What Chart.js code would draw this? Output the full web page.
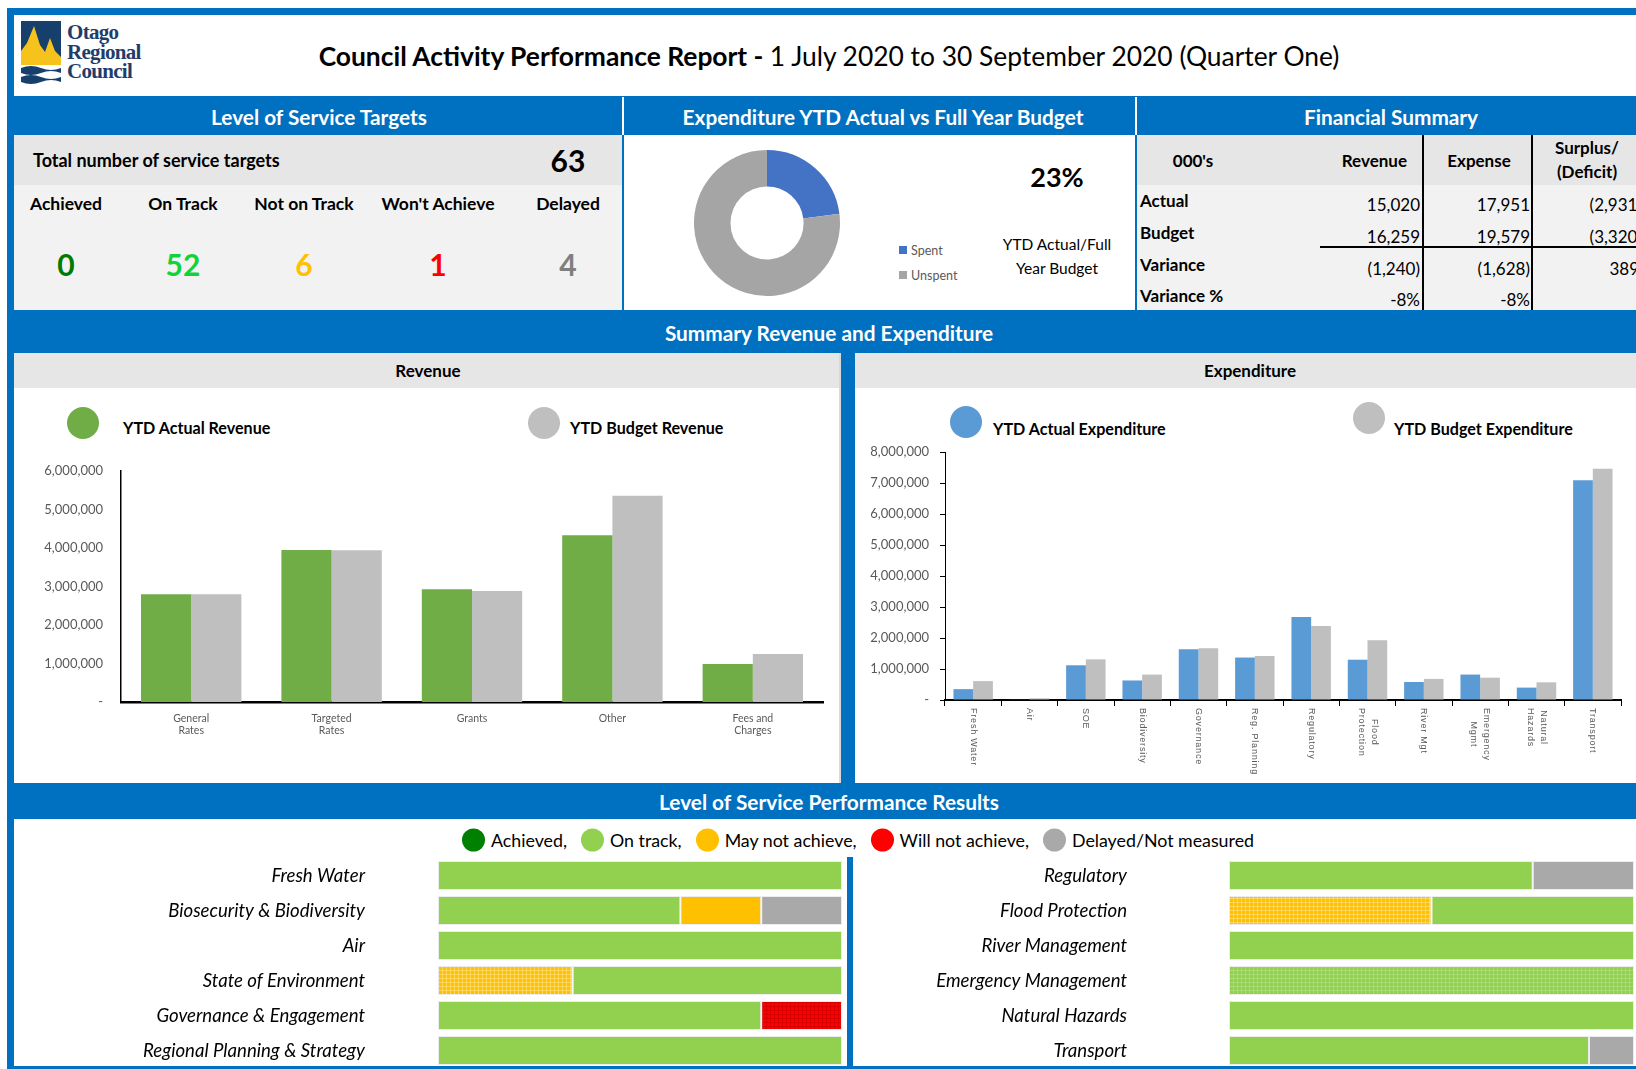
<!DOCTYPE html>
<html>
<head>
<meta charset="utf-8">
<script src="https://cdn.jsdelivr.net/npm/chart.js@4.4.0/dist/chart.umd.min.js"></script>
<style>
  body { margin: 0; width: 1636px; height: 1069px; overflow: hidden; position: relative; background: #fff; font-family: Lato, "Open Sans", sans-serif; color: #000; }
  .box { position: absolute; }
  .t { position: absolute; white-space: nowrap; }
  .c { transform: translate(-50%, -50%); text-align: center; }
  .l { transform: translateY(-50%); }
  .r { transform: translate(-100%, -50%); text-align: right; }
  .band { color: #fff; font-weight: 700; font-size: 20.8px; }
  canvas { position: absolute; }
  .dot { display: inline-block; border-radius: 50%; vertical-align: middle; }
</style>
</head>
<body>
<!-- frame and panels -->
<div class="box" style="left:7px;top:8px;width:1629px;height:1061px;background:#0070C0"></div>
<div class="box" style="left:14px;top:15px;width:1622px;height:81px;background:#fff"></div>
<div class="box" style="left:622px;top:97px;width:2px;height:38px;background:#fff"></div>
<div class="box" style="left:1135px;top:97px;width:2px;height:38px;background:#fff"></div>
<div class="box" style="left:14px;top:135px;width:608px;height:50px;background:#E7E6E6"></div>
<div class="box" style="left:14px;top:185px;width:608px;height:125px;background:#F2F2F2"></div>
<div class="box" style="left:624px;top:135px;width:511px;height:175px;background:#fff"></div>
<div class="box" style="left:1137px;top:135px;width:499px;height:50px;background:#E7E6E6"></div>
<div class="box" style="left:1137px;top:185px;width:499px;height:125px;background:#F2F2F2"></div>
<div class="box" style="left:14px;top:353px;width:825px;height:430px;background:#fff;border-right:2px solid #D9D9D9"></div>
<div class="box" style="left:14px;top:353px;width:825px;height:35px;background:#E7E6E6"></div>
<div class="box" style="left:855px;top:353px;width:781px;height:430px;background:#fff"></div>
<div class="box" style="left:855px;top:353px;width:781px;height:35px;background:#E7E6E6"></div>
<div class="box" style="left:14px;top:819px;width:1622px;height:247px;background:#fff"></div>
<div class="box" style="left:847px;top:857px;width:6px;height:209px;background:#0070C0"></div>

<!-- logo -->
<svg class="box" style="left:21px;top:21px" width="40" height="63" viewBox="0 0 40 63">
  <rect x="0" y="0" width="40" height="44" fill="#173F6B"/>
  <polygon points="0,44 0,30 6,22 13,5 19,24 24,31 29,17 34,30 40,36 40,44" fill="#F6C21C"/>
  <path d="M0 47 Q10 43 20 47 T40 47 V52 Q30 48 20 52 T0 52Z" fill="#173F6B"/>
  <path d="M0 56 Q10 52 20 56 T40 56 V61 Q30 57 20 61 T0 61Z" fill="#173F6B"/>
</svg>
<div class="t" style="left:67px;top:23px;font-family:'Liberation Serif',serif;font-weight:700;font-size:21px;line-height:19.5px;color:#1F3D6B;letter-spacing:-0.7px">Otago<br>Regional<br>Council</div>

<div class="t c" style="left:829px;top:56px;font-size:26.4px"><b>Council Activity Performance Report - </b>1 July 2020 to 30 September 2020 (Quarter One)</div>

<div class="t c band" style="left:319px;top:116px">Level of Service Targets</div>
<div class="t c band" style="left:883px;top:116px">Expenditure YTD Actual vs Full Year Budget</div>
<div class="t c band" style="left:1391px;top:116px">Financial Summary</div>
<div class="t c band" style="left:829px;top:332px">Summary Revenue and Expenditure</div>
<div class="t c band" style="left:829px;top:801px">Level of Service Performance Results</div>

<div class="t c" style="left:428px;top:370px;font-size:17px;font-weight:700">Revenue</div>
<div class="t c" style="left:1250px;top:370px;font-size:17px;font-weight:700">Expenditure</div>

<div id="los"></div>
<div id="fin"></div>

<!-- donut texts -->
<div class="t c" style="left:1057px;top:176px;font-size:27px;font-weight:700">23%</div>
<div class="t c" style="left:1057px;top:256px;font-size:15.5px;line-height:24px">YTD Actual/Full<br>Year Budget</div>
<div id="donutLegend"></div>

<!-- chart legends -->
<div id="revLegend"></div>
<div id="expLegend"></div>
<div id="resLegend" class="t" style="left:462px;top:839px;transform:translateY(-50%);font-size:17.8px"></div>

<canvas id="donut" width="150" height="150" style="left:692px;top:148px"></canvas>
<canvas id="revenue" width="827" height="320" style="left:14px;top:455px"></canvas>
<canvas id="expenditure" width="781" height="345" style="left:855px;top:435px"></canvas>
<canvas id="resultsLeft" width="830" height="210" style="left:14px;top:858px"></canvas>
<canvas id="resultsRight" width="783" height="210" style="left:853px;top:858px"></canvas>

<script>
// ---- data ----
const targetTotal = 63;
const targetLabels = ["Achieved", "On Track", "Not on Track", "Won't Achieve", "Delayed"];
const targetCounts = [0, 52, 6, 1, 4];
const targetColors = ["#007A00", "#12D23A", "#FFC000", "#FF0000", "#7F7F7F"];

const donutLabels = ["Spent", "Unspent"];
const donutValues = [23, 77];
const donutColors = ["#4472C4", "#A5A5A5"];

const finRows = ["Actual", "Budget", "Variance", "Variance %"];
const finRevenue = ["15,020", "16,259", "(1,240)", "-8%"];
const finExpense = ["17,951", "19,579", "(1,628)", "-8%"];
const finSurplus = ["(2,931)", "(3,320)", "389", ""];

const revenueCategories = [["General", "Rates"], ["Targeted", "Rates"], "Grants", "Other", ["Fees and", "Charges"]];
const revenueActual = [2800000, 3950000, 2930000, 4330000, 990000];
const revenueBudget = [2800000, 3940000, 2880000, 5360000, 1250000];

const expenditureCategories = [["Fresh Water"], ["Air"], ["SOE"], ["Biodiversity"], ["Governance"], ["Reg. Planning"],
  ["Regulatory"], ["Flood", "Protection"], ["River Mgt"], ["Emergency", "Mgmt"], ["Natural", "Hazards"], ["Transport"]];
const expenditureActual = [350000, 20000, 1120000, 630000, 1640000, 1370000, 2680000, 1300000, 580000, 820000, 400000, 7090000];
const expenditureBudget = [610000, 55000, 1310000, 820000, 1670000, 1420000, 2390000, 1930000, 680000, 720000, 570000, 7460000];

const statusNames = ["Achieved,", "On track,", "May not achieve,", "Will not achieve,", "Delayed/Not measured"];
const statusKeys = ["achieved", "onTrack", "notOnTrack", "wontAchieve", "delayed"];
const statusColors = ["#008000", "#92D050", "#FFC000", "#FF0000", "#A9A9A9"];

// each row: [status, count, hatched]
const leftAreas = ["Fresh Water", "Biosecurity & Biodiversity", "Air", "State of Environment", "Governance & Engagement", "Regional Planning & Strategy"];
const leftResults = [
  [["onTrack", 1]],
  [["onTrack", 3], ["notOnTrack", 1], ["delayed", 1]],
  [["onTrack", 1]],
  [["notOnTrack", 1, true], ["onTrack", 2]],
  [["onTrack", 4], ["wontAchieve", 1, true]],
  [["onTrack", 1]]
];
const rightAreas = ["Regulatory", "Flood Protection", "River Management", "Emergency Management", "Natural Hazards", "Transport"];
const rightResults = [
  [["onTrack", 3], ["delayed", 1]],
  [["notOnTrack", 1, true], ["onTrack", 1]],
  [["onTrack", 1]],
  [["onTrack", 1, true]],
  [["onTrack", 1]],
  [["onTrack", 8], ["delayed", 1]]
];

// ---- html blocks ----
function txt(cls, x, y, style, html) {
  return `<div class="t ${cls}" style="left:${x}px;top:${y}px;${style}">${html}</div>`;
}

let h = txt("l", 33, 160, "font-size:18px;font-weight:700", "Total number of service targets");
h += txt("c", 568, 160, "font-size:30px;font-weight:700", targetTotal);
const targetX = [66, 183, 304, 438, 568];
targetLabels.forEach((lab, i) => {
  h += txt("c", targetX[i], 203, "font-size:17.5px;font-weight:700", lab);
  h += txt("c", targetX[i], 264, `font-size:30px;font-weight:700;color:${targetColors[i]}`, targetCounts[i]);
});
document.getElementById("los").innerHTML = h;

h = txt("c", 1193, 160, "font-size:17px;font-weight:700", "000's");
h += txt("r", 1407, 160, "font-size:17px;font-weight:700", "Revenue");
h += txt("c", 1479, 160, "font-size:17px;font-weight:700", "Expense");
h += txt("c", 1587, 160, "font-size:17px;font-weight:700;line-height:24px", "Surplus/<br>(Deficit)");
const rowY = [200, 232, 264, 295];
finRows.forEach((lab, i) => {
  h += txt("l", 1140, rowY[i], "font-size:17px;font-weight:700", lab);
  h += txt("r", 1420, rowY[i] + 4, "font-size:17px", finRevenue[i]);
  h += txt("r", 1530, rowY[i] + 4, "font-size:17px", finExpense[i]);
  h += txt("r", finSurplus[i].startsWith("(") ? 1642 : 1639, rowY[i] + 4, "font-size:17px", finSurplus[i]);
});
h += '<div class="box" style="left:1422px;top:135px;width:2px;height:175px;background:#000"></div>';
h += '<div class="box" style="left:1531px;top:135px;width:2px;height:175px;background:#000"></div>';
h += '<div class="box" style="left:1320px;top:246px;width:316px;height:2px;background:#000"></div>';
document.getElementById("fin").innerHTML = h;

h = "";
donutLabels.forEach((lab, i) => {
  h += `<div class="box" style="left:899px;top:${246 + i * 25}px;width:8px;height:8px;background:${donutColors[i]}"></div>`;
  h += txt("l", 911, 250 + i * 25, "font-size:12.5px;color:#595959", lab);
});
document.getElementById("donutLegend").innerHTML = h;

function bigLegend(items) {
  return items.map(it =>
    `<div class="dot box" style="left:${it.cx - 16}px;top:${it.cy - 16}px;width:32px;height:32px;background:${it.color}"></div>` +
    txt("l", it.tx, it.ty, "font-size:16.1px;font-weight:700", it.label)).join("");
}
document.getElementById("revLegend").innerHTML = bigLegend([
  { cx: 83, cy: 423, color: "#70AD47", tx: 123, ty: 427, label: "YTD Actual Revenue" },
  { cx: 544, cy: 423, color: "#BFBFBF", tx: 570, ty: 427, label: "YTD Budget Revenue" }
]);
document.getElementById("expLegend").innerHTML = bigLegend([
  { cx: 966, cy: 422, color: "#5B9BD5", tx: 993, ty: 428, label: "YTD Actual Expenditure" },
  { cx: 1369, cy: 418, color: "#BFBFBF", tx: 1394, ty: 428, label: "YTD Budget Expenditure" }
]);
document.getElementById("resLegend").innerHTML = statusNames.map((n, i) =>
  `<span class="dot" style="width:23px;height:23px;background:${statusColors[i]};margin:0 6px 0 ${i ? 14 : 0}px"></span><span style="vertical-align:middle">${n}</span>`).join("");

// ---- charts ----
Chart.defaults.font.family = "Lato";
Chart.defaults.animation = false;

// y axes keep their labels away from the axis without shrinking the plot
const fixWidth = w => s => { s.width = w; s.paddingTop = 0; s.paddingBottom = 0; };

new Chart(document.getElementById("donut"), {
  type: "doughnut",
  data: { labels: donutLabels, datasets: [{ data: donutValues, backgroundColor: donutColors, borderWidth: 0 }] },
  options: {
    responsive: false, cutout: "50%",
    layout: { padding: 2 },
    plugins: { legend: { display: false }, tooltip: { enabled: false } }
  }
});

const money = v => v === 0 ? "-" : v.toLocaleString("en-US");

new Chart(document.getElementById("revenue"), {
  type: "bar",
  data: {
    labels: revenueCategories,
    datasets: [
      { label: "YTD Actual Revenue", data: revenueActual, backgroundColor: "#70AD47" },
      { label: "YTD Budget Revenue", data: revenueBudget, backgroundColor: "#BFBFBF" }
    ]
  },
  options: {
    responsive: false,
    layout: { padding: { top: 16, right: 18 } },
    datasets: { bar: { categoryPercentage: 0.715, barPercentage: 1 } },
    plugins: { legend: { display: false }, tooltip: { enabled: false } },
    scales: {
      x: {
        grid: { display: false, drawTicks: false },
        border: { color: "#000", width: 2.5 },
        ticks: { color: "#595959", font: { size: 10.5 }, padding: 10 },
        afterFit: s => { s.height = 73; }
      },
      y: {
        min: 0, max: 6000000,
        grid: { display: false, drawTicks: false },
        border: { color: "#000", width: 1.5 },
        ticks: { stepSize: 1000000, color: "#595959", font: { size: 13 }, padding: 18, callback: money },
        afterFit: fixWidth(107)
      }
    }
  }
});

const rotatedLabels = {
  id: "rotatedLabels",
  afterDraw(chart) {
    const x = chart.scales.x, ctx = chart.ctx;
    ctx.save();
    ctx.font = '9px "Liberation Sans"';
    ctx.letterSpacing = "0.8px";
    ctx.fillStyle = "#595959";
    ctx.textAlign = "center";
    ctx.textBaseline = "middle";
    expenditureCategories.forEach((lines, i) => {
      const w = Math.max(...lines.map(s => ctx.measureText(s).width));
      ctx.save();
      ctx.translate(x.getPixelForValue(i), x.top + 8);
      ctx.rotate(Math.PI / 2);
      lines.forEach((s, j) => ctx.fillText(s, w / 2, (j - (lines.length - 1) / 2) * 13));
      ctx.restore();
    });
    ctx.restore();
  }
};

new Chart(document.getElementById("expenditure"), {
  type: "bar",
  data: {
    labels: expenditureCategories.map(l => l.join(" ")),
    datasets: [
      { label: "YTD Actual Expenditure", data: expenditureActual, backgroundColor: "#5B9BD5" },
      { label: "YTD Budget Expenditure", data: expenditureBudget, backgroundColor: "#BFBFBF" }
    ]
  },
  options: {
    responsive: false,
    layout: { padding: { top: 17, right: 15 } },
    datasets: { bar: { categoryPercentage: 0.7, barPercentage: 1 } },
    plugins: { legend: { display: false }, tooltip: { enabled: false } },
    scales: {
      x: {
        offset: true,
        grid: { drawOnChartArea: false, drawTicks: true, tickLength: 6, color: "#000", offset: true },
        border: { color: "#000", width: 2 },
        ticks: { display: false },
        afterFit: s => { s.height = 80; }
      },
      y: {
        min: 0, max: 8000000,
        grid: { drawOnChartArea: false, drawTicks: true, tickLength: 5, color: "#000" },
        border: { color: "#000", width: 1 },
        ticks: { stepSize: 1000000, color: "#595959", font: { size: 13 }, padding: 11, callback: money },
        afterFit: fixWidth(90)
      }
    }
  },
  plugins: [rotatedLabels]
});

function hatch(base, line) {
  const c = document.createElement("canvas");
  c.width = c.height = 4;
  const g = c.getContext("2d");
  g.fillStyle = base; g.fillRect(0, 0, 4, 4);
  g.fillStyle = line; g.fillRect(0, 0, 4, 1); g.fillRect(0, 0, 1, 4);
  return g.createPattern(c, "repeat");
}
const hatchColors = {
  onTrack: hatch("#92D050", "#A9DC72"),
  notOnTrack: hatch("#FFC000", "#FFD75A"),
  wontAchieve: hatch("#FF0000", "#D80000")
};
const fillFor = seg => seg[2] ? hatchColors[seg[0]] : statusColors[statusKeys.indexOf(seg[0])];

function resultsChart(id, areas, rows, axisWidth, pad) {
  const datasets = [0, 1, 2].map(k => ({
    data: rows.map(r => r[k] ? r[k][1] / r.reduce((s, x) => s + x[1], 0) * 100 : 0),
    backgroundColor: rows.map(r => r[k] ? fillFor(r[k]) : "rgba(0,0,0,0)"),
    borderColor: "#EDEDED",
    borderWidth: rows.map(r => r[k] ? 1 : 0),
    borderSkipped: false,
    barPercentage: 0.83,
    categoryPercentage: 1
  }));
  new Chart(document.getElementById(id), {
    type: "bar",
    data: { labels: areas, datasets },
    options: {
      indexAxis: "y", responsive: false,
      layout: { padding: { right: 2 } },
      plugins: { legend: { display: false }, tooltip: { enabled: false } },
      scales: {
        x: { stacked: true, min: 0, max: 100, display: false },
        y: {
          stacked: true,
          grid: { display: false, drawTicks: false },
          border: { display: false },
          ticks: { color: "#000", font: { size: 18.6, style: "italic" }, padding: pad },
          afterFit: fixWidth(axisWidth)
        }
      }
    }
  });
}
resultsChart("resultsLeft", leftAreas, leftResults, 424, 73);
resultsChart("resultsRight", rightAreas, rightResults, 376, 102);
</script>
</body>
</html>
